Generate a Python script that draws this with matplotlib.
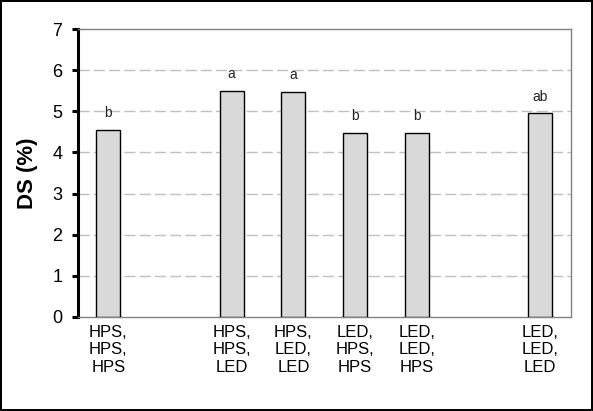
import numpy as np
import matplotlib
matplotlib.use("Agg")
import matplotlib.pyplot as plt

plt.rcParams['font.family'] = ['Liberation Sans', 'DejaVu Sans']

# ============================================================
# DADOS
# ============================================================
rotulos = ["HPS,\nHPS,\nHPS", "HPS,\nHPS,\nLED", "HPS,\nLED,\nLED",
           "LED,\nHPS,\nHPS", "LED,\nLED,\nHPS", "LED,\nLED,\nLED"]
posicoes = [0, 2, 3, 4, 5, 7]
ds = [4.55, 5.50, 5.48, 4.48, 4.48, 4.95]
letras = ["b", "a", "a", "b", "b", "ab"]
yticks = [0, 1, 2, 3, 4, 5, 6, 7]

# ============================================================
# FIGURA
# ============================================================
fig = plt.figure(figsize=(5.93, 4.11), dpi=100)
fig.patch.set_edgecolor('black')
fig.patch.set_linewidth(1.5)
ax = fig.add_axes([0.1307, 0.2294, 0.9629 - 0.1307, 0.9287 - 0.2294])

ax.bar(posicoes, ds, width=0.39, color='#d9d9d9', edgecolor='black',
       linewidth=1.0, zorder=3)

for x, v, l in zip(posicoes, ds, letras):
    ax.annotate(l, (x, v), xytext=(0, 7), textcoords='offset points',
                ha='center', va='bottom', fontsize=10, color='#222222')

ax.set_xlim(-0.5, 7.5)
ax.set_ylim(0, 7)
ax.set_yticks(yticks)
ax.set_xticks(posicoes)
ax.set_xticklabels(rotulos, fontsize=12, linespacing=1.2)

# grade tracejada
for y in yticks[1:-1]:
    ax.axhline(y, color='#c0c0c0', linestyle=(0, (8, 3)), linewidth=1.0, zorder=1)

ax.spines['left'].set_linewidth(2.2)
ax.spines['left'].set_color('black')
for s in ['top', 'right', 'bottom']:
    ax.spines[s].set_color('#808080')
    ax.spines[s].set_linewidth(1.0)

ax.tick_params(axis='y', length=4, width=2.2, pad=7, labelsize=13)
ax.tick_params(axis='x', length=0, pad=6)

ax.set_ylabel('DS (%)', fontsize=16, fontweight='bold', labelpad=10)

fig.savefig('out.png', dpi=100)
